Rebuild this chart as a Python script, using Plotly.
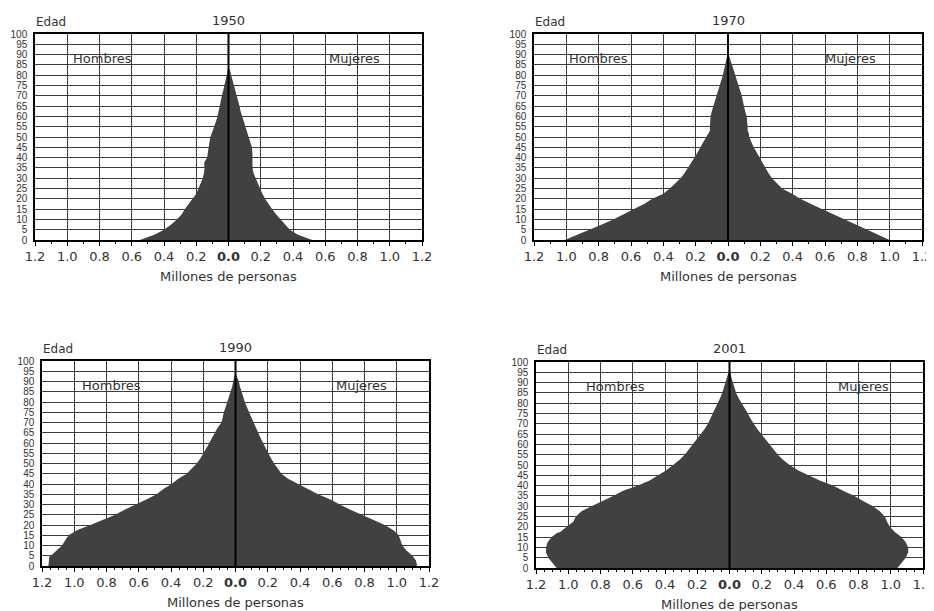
import plotly.graph_objects as go

# ---------------- data (millions of persons by age) ----------------
ages_1950_m = [0, 1, 2.5, 5, 7.5, 10, 12.5, 15, 17.5, 20, 22.5, 25, 27.5, 30, 32.5, 35, 37.5, 40, 42.5, 45, 47.5, 50, 52.5, 55, 57.5, 60, 62.5, 65, 67.5, 70, 72.5, 75, 77.5, 80, 82.5, 84]
men_1950 = [0.55, 0.51, 0.46, 0.40, 0.355, 0.32, 0.29, 0.27, 0.245, 0.22, 0.20, 0.186, 0.172, 0.16, 0.152, 0.149, 0.151, 0.132, 0.128, 0.124, 0.12, 0.113, 0.10, 0.087, 0.078, 0.068, 0.062, 0.056, 0.049, 0.041, 0.033, 0.025, 0.018, 0.01, 0.004, 0.0]
ages_1950_f = [0, 1, 2.5, 5, 7.5, 10, 12.5, 15, 17.5, 20, 22.5, 25, 27.5, 30, 32.5, 35, 37.5, 40, 42.5, 45, 47.5, 50, 52.5, 55, 57.5, 60, 62.5, 65, 67.5, 70, 72.5, 75, 77.5, 80, 82.5, 84]
women_1950 = [0.52, 0.48, 0.43, 0.38, 0.35, 0.32, 0.295, 0.27, 0.248, 0.227, 0.21, 0.196, 0.18, 0.165, 0.155, 0.149, 0.15, 0.151, 0.148, 0.145, 0.135, 0.124, 0.113, 0.103, 0.093, 0.083, 0.075, 0.068, 0.06, 0.052, 0.043, 0.035, 0.026, 0.017, 0.008, 0.0]

ages_1970_m = [0, 2.5, 5, 7.5, 10, 12.5, 15, 17.5, 20, 22.5, 25, 27.5, 30, 32.5, 35, 37.5, 40, 42.5, 45, 47.5, 50, 52, 53, 55, 57.5, 60, 62.5, 65, 67.5, 70, 72.5, 75, 77.5, 80, 82.5, 85, 87.5, 90, 91]
men_1970 = [1.01, 0.93, 0.856, 0.78, 0.71, 0.645, 0.577, 0.52, 0.468, 0.40, 0.36, 0.325, 0.293, 0.268, 0.247, 0.226, 0.206, 0.188, 0.171, 0.152, 0.134, 0.12, 0.112, 0.112, 0.11, 0.108, 0.10, 0.09, 0.078, 0.068, 0.058, 0.048, 0.04, 0.032, 0.025, 0.018, 0.01, 0.003, 0.0]
ages_1970_f = [0, 2.5, 5, 7.5, 10, 12.5, 15, 17.5, 20, 22.5, 25, 27.5, 30, 32.5, 35, 37.5, 40, 42.5, 45, 47.5, 50, 52, 53, 55, 57.5, 60, 62.5, 65, 67.5, 70, 72.5, 75, 77.5, 80, 82.5, 85, 87.5, 90, 91]
women_1970 = [1.0, 0.93, 0.86, 0.787, 0.715, 0.647, 0.58, 0.513, 0.447, 0.396, 0.334, 0.30, 0.272, 0.25, 0.231, 0.213, 0.196, 0.177, 0.159, 0.145, 0.132, 0.128, 0.122, 0.121, 0.119, 0.116, 0.106, 0.097, 0.092, 0.085, 0.076, 0.066, 0.056, 0.045, 0.035, 0.025, 0.014, 0.004, 0.0]

ages_1990_m = [0, 2.5, 4.5, 5, 7.5, 10, 12.5, 15, 16, 17.5, 20, 22.5, 25, 27.5, 30, 32.5, 35, 37.5, 40, 42.5, 45, 47.5, 50, 52.5, 55, 57.5, 60, 62.5, 65, 67.5, 70, 72.5, 75, 77.5, 80, 82.5, 85, 87.5, 90, 92.5, 94.5]
men_1990 = [1.16, 1.158, 1.155, 1.145, 1.107, 1.076, 1.056, 1.035, 1.014, 0.98, 0.90, 0.82, 0.746, 0.685, 0.612, 0.55, 0.489, 0.447, 0.396, 0.355, 0.303, 0.27, 0.241, 0.217, 0.196, 0.18, 0.163, 0.146, 0.128, 0.11, 0.087, 0.08, 0.072, 0.061, 0.05, 0.04, 0.029, 0.021, 0.014, 0.006, 0.0]
ages_1990_f = [0, 2.5, 5, 7.5, 10, 12.5, 15, 17.5, 20, 22.5, 25, 27.5, 30, 32.5, 35, 37.5, 40, 42.5, 45, 47.5, 50, 52.5, 55, 57.5, 60, 62.5, 65, 67.5, 70, 72.5, 75, 77.5, 80, 82.5, 85, 87.5, 90, 92, 94]
women_1990 = [1.126, 1.12, 1.097, 1.06, 1.035, 1.025, 1.012, 0.977, 0.926, 0.853, 0.78, 0.709, 0.647, 0.585, 0.512, 0.45, 0.378, 0.326, 0.285, 0.26, 0.24, 0.22, 0.202, 0.186, 0.171, 0.155, 0.14, 0.125, 0.11, 0.096, 0.083, 0.07, 0.058, 0.047, 0.037, 0.028, 0.021, 0.01, 0.0]

ages_2001_m = [0, 2.5, 5, 7.5, 10, 12.5, 15, 17, 17.5, 20, 22.5, 25, 27.5, 30, 32.5, 35, 37.5, 40, 42.5, 45, 47.5, 50, 52.5, 55, 57.5, 60, 62.5, 65, 67.5, 70, 72.5, 75, 77.5, 80, 82.5, 85, 87.5, 90, 92.5, 95, 97.5]
men_2001 = [1.072, 1.097, 1.124, 1.138, 1.138, 1.128, 1.103, 1.07, 1.05, 1.01, 0.969, 0.953, 0.918, 0.856, 0.784, 0.722, 0.66, 0.567, 0.495, 0.443, 0.392, 0.35, 0.309, 0.278, 0.252, 0.227, 0.2, 0.175, 0.154, 0.134, 0.118, 0.103, 0.087, 0.072, 0.058, 0.045, 0.035, 0.025, 0.015, 0.006, 0.0]
ages_2001_f = [0, 2.5, 5, 7.5, 10, 12.5, 15, 17.5, 20, 22.5, 25, 27.5, 30, 32.5, 35, 37.5, 40, 42.5, 45, 47.5, 50, 52.5, 55, 57.5, 60, 62.5, 65, 67.5, 70, 72.5, 75, 77.5, 80, 82.5, 85, 87.5, 90, 92.5, 95, 98]
women_2001 = [1.041, 1.066, 1.093, 1.108, 1.108, 1.093, 1.066, 1.025, 0.994, 0.977, 0.963, 0.932, 0.89, 0.828, 0.776, 0.704, 0.642, 0.559, 0.487, 0.424, 0.373, 0.331, 0.30, 0.273, 0.248, 0.222, 0.197, 0.172, 0.149, 0.131, 0.114, 0.093, 0.072, 0.056, 0.041, 0.03, 0.021, 0.012, 0.005, 0.0]

years = ["1950", "1970", "1990", "2001"]
x_tickvals = [-1.2, -1.0, -0.8, -0.6, -0.4, -0.2, 0.0, 0.2, 0.4, 0.6, 0.8, 1.0, 1.2]
x_ticktext = ["1.2", "1.0", "0.8", "0.6", "0.4", "0.2", "<b>0.0</b>", "0.2", "0.4", "0.6", "0.8", "1.0", "1.2"]
y_tickvals = list(range(0, 101, 5))
x_title = "Millones de personas"
y_title = "Edad"
men_label = "Hombres"
women_label = "Mujeres"

panel_data = [
    (ages_1950_m, men_1950, ages_1950_f, women_1950),
    (ages_1970_m, men_1970, ages_1970_f, women_1970),
    (ages_1990_m, men_1990, ages_1990_f, women_1990),
    (ages_2001_m, men_2001, ages_2001_f, women_2001),
]

# ---------------- layout geometry (page pixels) ----------------
OFF = 8                      # default page body margin
W, H = 934 - OFF, 611 - OFF  # figure size
# left, right, top, bottom of each plot area in page pixels
boxes = [(35, 422, 34, 240), (534, 922, 34, 240), (42, 429, 361, 566), (536, 923, 362, 568)]
minor_dt = [0.1, 0.1, 0.05, 0.05]
label_x = [(-0.78, 0.78), (-0.80, 0.76), (-0.77, 0.78), (-0.71, 0.83)]

FILL = "#414141"
GRID = "#3c3c3c"
FONT = "DejaVu Sans"

def px(x):
    return (x - OFF) / W

def py(y):
    return 1 - (y - OFF) / H

fig = go.Figure()
layout = dict(
    width=W, height=H, margin=dict(l=0, r=0, t=0, b=0, autoexpand=False),
    paper_bgcolor="white", plot_bgcolor="white", showlegend=False,
    font=dict(family=FONT, color="#333333"),
)
annotations = []
shapes = []

for i, (yr, (am, m, af, f), box, mdt, lx) in enumerate(zip(years, panel_data, boxes, minor_dt, label_x)):
    n = "" if i == 0 else str(i + 1)
    xa, ya = "x" + n, "y" + n
    l, r, t, b = box
    fig.add_trace(go.Scatter(x=[-v for v in m], y=am, mode="lines", fill="tozerox",
                             fillcolor=FILL, line=dict(width=0, color=FILL),
                             xaxis=xa, yaxis=ya, hoverinfo="skip"))
    fig.add_trace(go.Scatter(x=f, y=af, mode="lines", fill="tozerox",
                             fillcolor=FILL, line=dict(width=0, color=FILL),
                             xaxis=xa, yaxis=ya, hoverinfo="skip"))
    layout["xaxis" + n] = dict(
        domain=[px(l), px(r)], anchor=ya, range=[-1.2, 1.2], automargin=False,
        tickmode="array", tickvals=x_tickvals, ticktext=x_ticktext,
        ticks="outside", ticklen=4, tickcolor="black", tickwidth=1,
        minor=dict(dtick=mdt, tick0=0, ticks="outside", ticklen=2, tickcolor="black", showgrid=False),
        showgrid=True, gridcolor=GRID, gridwidth=1, zeroline=False,
        showline=True, linecolor="black", linewidth=1.5, mirror=True,
        tickfont=dict(family=FONT, size=13, color="#333333"), fixedrange=True,
    )
    layout["yaxis" + n] = dict(
        domain=[py(b), py(t)], anchor=xa, range=[0, 100], automargin=False,
        tickmode="array", tickvals=y_tickvals,
        ticks="outside", ticklen=4, tickcolor="rgba(0,0,0,0)",
        showgrid=True, gridcolor=GRID, gridwidth=1, zeroline=False,
        showline=True, linecolor="black", linewidth=1.5, mirror=True,
        tickfont=dict(family="Liberation Sans Narrow, Arial Narrow, sans-serif", size=10, color="#333333"),
        fixedrange=True,
    )
    # centre line
    shapes.append(dict(type="line", xref=xa, yref=ya, x0=0, x1=0, y0=0, y1=100,
                       line=dict(color="black", width=2), layer="above"))
    # year title
    annotations.append(dict(text=yr, xref=xa, yref="paper", x=0, y=py(t - 14),
                            showarrow=False, xanchor="center", yanchor="middle",
                            font=dict(family=FONT, size=13, color="#333333")))
    # Edad
    annotations.append(dict(text=y_title, xref="paper", yref="paper", x=px(l - 1), y=py(t - 12),
                            showarrow=False, xanchor="left", yanchor="middle",
                            font=dict(family=FONT, size=12, color="#333333")))
    # Hombres / Mujeres
    annotations.append(dict(text=men_label, xref=xa, yref=ya, x=lx[0], y=88,
                            showarrow=False, xanchor="center", yanchor="middle",
                            font=dict(family=FONT, size=13, color="#333333")))
    annotations.append(dict(text=women_label, xref=xa, yref=ya, x=lx[1], y=88,
                            showarrow=False, xanchor="center", yanchor="middle",
                            font=dict(family=FONT, size=13, color="#333333")))
    # x axis title
    annotations.append(dict(text=x_title, xref=xa, yref="paper", x=0, y=py(b + 36),
                            showarrow=False, xanchor="center", yanchor="middle",
                            font=dict(family=FONT, size=13, color="#333333")))

layout["annotations"] = annotations
layout["shapes"] = shapes
fig.update_layout(**layout)
fig.write_html("out.html")
